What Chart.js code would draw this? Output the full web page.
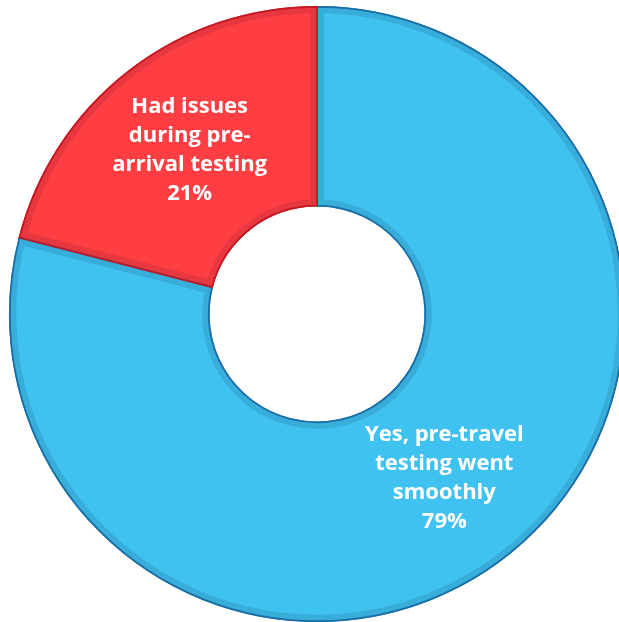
<!DOCTYPE html>
<html>
<head>
<meta charset="utf-8">
<script src="https://cdn.jsdelivr.net/npm/chart.js@4/dist/chart.umd.min.js"></script>
<style>
  html, body { margin: 0; padding: 0; background: #ffffff; overflow: hidden; width: 619px; height: 622px; }
  #wrap { position: absolute; left: -13.5px; top: -16.5px; width: 660px; height: 660px; }
</style>
</head>
<body>
<div id="wrap"><canvas id="c" width="660" height="660"></canvas></div>
<script>
const categories = ['Yes, pre-travel testing went smoothly', 'Had issues during pre-arrival testing'];
const values = [79, 21];
const labelLines = [
  ['Yes, pre-travel', 'testing went', 'smoothly'],
  ['Had issues', 'during pre-', 'arrival testing']
];
const fillColors = ['#40C2F1', '#FF3E44'];
const bandColors = ['#39ADDA', '#E6383E'];
const edgeColors = ['#1C6DA4', '#C41822'];

const total = values.reduce((a, b) => a + b, 0);

const outlinePlugin = {
  id: 'outline',
  afterDatasetsDraw(chart) {
    const ctx = chart.ctx;
    const meta = chart.getDatasetMeta(0);
    meta.data.forEach((arc, i) => {
      const p = arc.getProps(['x', 'y', 'startAngle', 'endAngle', 'innerRadius', 'outerRadius'], true);
      ctx.save();
      ctx.beginPath();
      ctx.arc(p.x, p.y, p.outerRadius - 0.8, p.startAngle, p.endAngle);
      ctx.arc(p.x, p.y, p.innerRadius + 0.8, p.endAngle, p.startAngle, true);
      ctx.closePath();
      ctx.lineWidth = 1.8;
      ctx.strokeStyle = edgeColors[i];
      ctx.stroke();
      ctx.restore();
    });
  }
};

const labelPlugin = {
  id: 'sliceLabels',
  afterDraw(chart) {
    const ctx = chart.ctx;
    const meta = chart.getDatasetMeta(0);
    meta.data.forEach((arc, i) => {
      const c = arc.getCenterPoint();
      const lines = labelLines[i].concat([Math.round(values[i] / total * 100) + '%']);
      const lh = 29;
      ctx.save();
      ctx.fillStyle = '#ffffff';
      ctx.font = 'bold 22px "Open Sans", sans-serif';
      ctx.textAlign = 'center';
      ctx.textBaseline = 'middle';
      const y0 = c.y - (lines.length - 1) * lh / 2;
      lines.forEach((t, k) => ctx.fillText(t, c.x, y0 + k * lh));
      ctx.restore();
    });
  }
};

new Chart(document.getElementById('c'), {
  type: 'doughnut',
  data: {
    labels: categories,
    datasets: [{
      data: values,
      backgroundColor: fillColors,
      borderColor: bandColors,
      borderWidth: 7,
      borderAlign: 'inner',
      hoverOffset: 0,
      hoverBorderWidth: 7
    }]
  },
  options: {
    responsive: false,
    animation: false,
    events: [],
    radius: 308,
    cutout: '34.9%',
    rotation: 0,
    layout: { padding: 0 },
    plugins: {
      legend: { display: false },
      tooltip: { enabled: false },
      title: { display: false }
    }
  },
  plugins: [outlinePlugin, labelPlugin]
});
</script>
</body>
</html>
